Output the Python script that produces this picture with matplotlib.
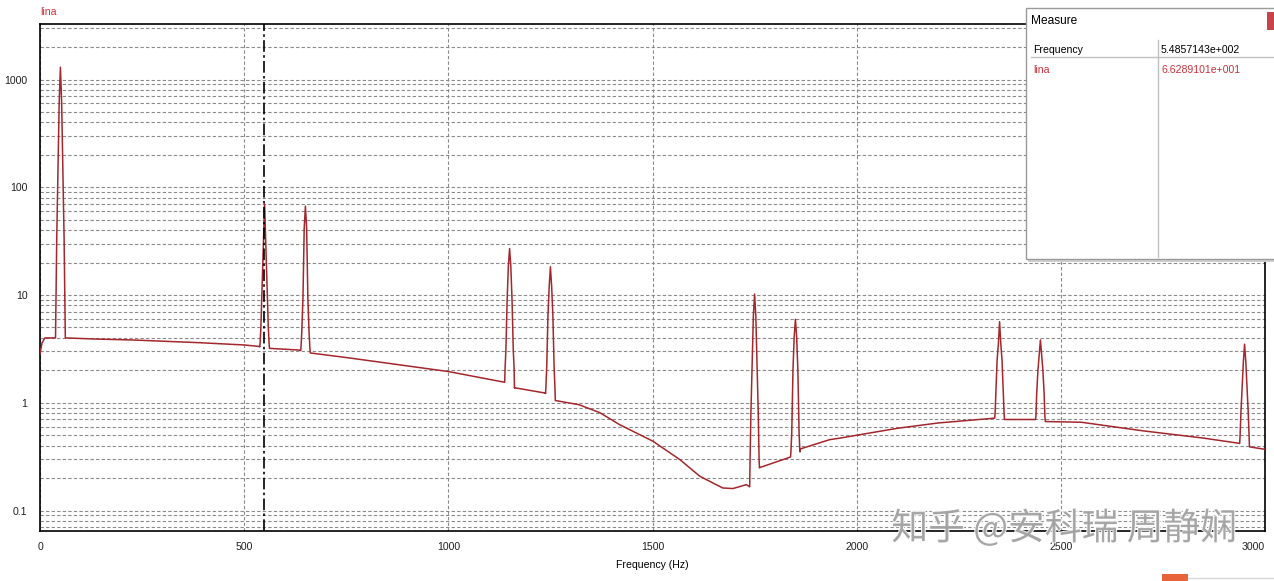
import matplotlib
matplotlib.use("Agg")
import matplotlib.pyplot as plt
import matplotlib.patheffects as pe
from matplotlib.ticker import FixedLocator, FixedFormatter, LogLocator, NullFormatter
from matplotlib.patches import Rectangle

# ---------------- data ----------------
# smooth background curve between harmonics (Hz, amplitude)
base_freq = [0, 5, 12, 38, 62, 140, 225, 392, 500, 538,
             562, 638, 662, 760, 900, 1000, 1138,
             1162, 1238, 1262, 1320, 1371, 1420, 1501, 1567, 1616, 1672, 1697, 1730, 1738,
             1762, 1838, 1862, 1934, 1959, 2000, 2100, 2200, 2338,
             2362, 2438, 2462, 2550, 2700, 2850, 2938, 2962, 3000]
base_amp = [2.85, 3.6, 4.0, 4.0, 4.0, 3.9, 3.83, 3.61, 3.44, 3.33,
            3.2, 3.08, 2.9, 2.6, 2.2, 1.95, 1.55,
            1.37, 1.23, 1.05, 0.96, 0.81, 0.625, 0.44, 0.297, 0.208, 0.162, 0.16, 0.174, 0.166,
            0.249, 0.314, 0.373, 0.455, 0.47, 0.5, 0.58, 0.65, 0.72,
            0.70, 0.70, 0.67, 0.66, 0.55, 0.47, 0.42, 0.39, 0.37]

# harmonic peaks
harm_freq = [50, 550, 650, 1150, 1250, 1750, 1850, 2350, 2450, 2950]
harm_peak = [1300, 70, 66.8, 27, 18.3, 10.2, 5.96, 5.66, 3.83, 3.5]
harm_lvl1 = [613, 30, 41.7, 18.6, 12.0, 6.4, 4.1, 3.5, 2.8, 2.4]
harm_lvl2 = [150, 12.4, 9.4, 9.0, 6.5, 2.2, 2.02, 2.5, 2.02, 1.4]
harm_lvl3 = [33.8, 5.1, 4.45, 3.1, 2.17, 0.8, 0.52, 1.24, 1.24, 0.8]
harm_lvl4 = [8.1, 3.6, 3.2, 2.11, 1.4, 0.3, 0.35, 0.8, 0.75, 0.5]
harm_base_left = [4.0, 3.3, 3.05, 1.55, 1.22, 0.166, 0.314, 0.72, 0.70, 0.42]
harm_base_right = [4.0, 3.2, 2.9, 1.38, 1.05, 0.25, 0.373, 0.70, 0.67, 0.39]
peak_offsets = [-12, -11, -9, -6, -3, 0, 3, 6, 9, 11, 12]

x_ticks = [0, 500, 1000, 1500, 2000, 2500, 3000]
x_tick_labels = ["0", "500", "1000", "1500", "2000", "2500", "3000"]
y_ticks = [0.1, 1, 10, 100, 1000]
y_tick_labels = ["0.1", "1", "10", "100", "1000"]
cursor_freq = 548.57143
cursor_value = 66.289101
series_name = "lina"

# ---------------- build trace ----------------
pts = list(zip(base_freq, base_amp))
for i, f in enumerate(harm_freq):
    vals = [harm_base_left[i], harm_lvl4[i], harm_lvl3[i], harm_lvl2[i], harm_lvl1[i],
            harm_peak[i],
            harm_lvl1[i], harm_lvl2[i], harm_lvl3[i], harm_lvl4[i], harm_base_right[i]]
    for o, v in zip(peak_offsets, vals):
        pts.append((f + o, v))
pts.sort(key=lambda p: p[0])
freq = [p[0] for p in pts]
amp = [p[1] for p in pts]

# ---------------- figure ----------------
W, H = 1274, 581
fig = plt.figure(figsize=(W / 100, H / 100), dpi=100)
fig.patch.set_facecolor("white")
ax = fig.add_axes([40 / W, 1 - 531 / H, (1265 - 40) / W, (531 - 24) / H])

FS = 7.6
line_color = "#a3272c"
red_text = "#c8323c"
ax.plot(freq, amp, color=line_color, lw=1.1, zorder=3)
ax.set_yscale("log")
ax.set_xlim(0, 3000)
ax.set_ylim(0.0646, 3275)

ax.xaxis.set_major_locator(FixedLocator(x_ticks))
ax.xaxis.set_major_formatter(FixedFormatter(x_tick_labels))
ax.yaxis.set_major_locator(FixedLocator(y_ticks))
ax.yaxis.set_major_formatter(FixedFormatter(y_tick_labels))
ax.yaxis.set_minor_locator(LogLocator(base=10, subs=range(2, 10)))
ax.yaxis.set_minor_formatter(NullFormatter())

ax.tick_params(axis="both", which="both", length=0, colors="#202020")
ax.tick_params(axis="y", pad=9)
ax.tick_params(axis="x", pad=8)
for lbl in ax.get_xticklabels() + ax.get_yticklabels():
    lbl.set_fontfamily("Liberation Sans")
    lbl.set_fontsize(FS)
ax.get_xticklabels()[-1].set_horizontalalignment("right")

grid_kw = dict(color="#8a8a8a", lw=0.8, linestyle=(0, (3, 2)))
ax.grid(True, which="major", axis="x", **grid_kw)
ax.grid(True, which="both", axis="y", **grid_kw)
ax.set_axisbelow(True)
for s in ax.spines.values():
    s.set_color("black")
    s.set_linewidth(1.2)

ax.axvline(cursor_freq, color="black", lw=1.2, linestyle=(0, (7, 2, 1.5, 2)), zorder=4)

ax.set_xlabel("Frequency (Hz)", fontfamily="Liberation Sans", fontsize=FS, labelpad=6)
fig.text(40 / W, 1 - 12 / H, series_name, color=red_text, fontfamily="Liberation Sans",
         fontsize=FS, va="center", ha="left")

# ---------------- overlay: measure panel, watermark ----------------
ov = fig.add_axes([0, 0, 1, 1], facecolor="none")
ov.set_xlim(0, W)
ov.set_ylim(H, 0)
ov.axis("off")

ov.add_patch(Rectangle((1028, 10), 260, 252, facecolor="#d0d0d0", edgecolor="none", zorder=5))
ov.add_patch(Rectangle((1026, 8), 260, 251, facecolor="white", edgecolor="#9a9a9a", lw=1.0, zorder=6))
ov.add_patch(Rectangle((1267, 12), 10, 18, facecolor="#c8434a", edgecolor="none", zorder=7))
ov.text(1031, 21, "Measure", fontfamily="Liberation Sans", fontsize=8.6, va="center", ha="left", zorder=8)
ov.plot([1031, 1274], [57, 57], color="#c0c0c0", lw=1.0, zorder=7)
ov.plot([1158, 1158], [40, 257], color="#c0c0c0", lw=1.0, zorder=7)
ov.text(1033, 50, "Frequency", fontfamily="Liberation Sans", fontsize=FS, va="center", ha="left", zorder=8)
ov.text(1161, 50, f"{cursor_freq:.7e}".replace("e+", "e+0"), fontfamily="Liberation Sans",
        fontsize=FS, va="center", ha="left", zorder=8)
ov.text(1033, 70, series_name, color=red_text, fontfamily="Liberation Sans", fontsize=FS,
        va="center", ha="left", zorder=8)
ov.text(1161, 70, f"{cursor_value:.7e}".replace("e+", "e+0"), color=red_text,
        fontfamily="Liberation Sans", fontsize=FS, va="center", ha="left", zorder=8)

ov.text(1064, 529, "知乎 @安科瑞 周静娴", fontfamily=["Noto Sans CJK SC", "DejaVu Sans"],
        fontsize=26.5, color="#a0a0a0", alpha=0.9, va="center", ha="center", zorder=9,
        path_effects=[pe.withStroke(linewidth=1.5, foreground="white")])

ov.add_patch(Rectangle((1162, 574), 26, 10, facecolor="#e8633a", edgecolor="none", zorder=9))
ov.plot([1188, 1274], [578, 578], color="#d8d8d8", lw=1.0, zorder=9)

fig.savefig("out.png", dpi=100, facecolor="white")
